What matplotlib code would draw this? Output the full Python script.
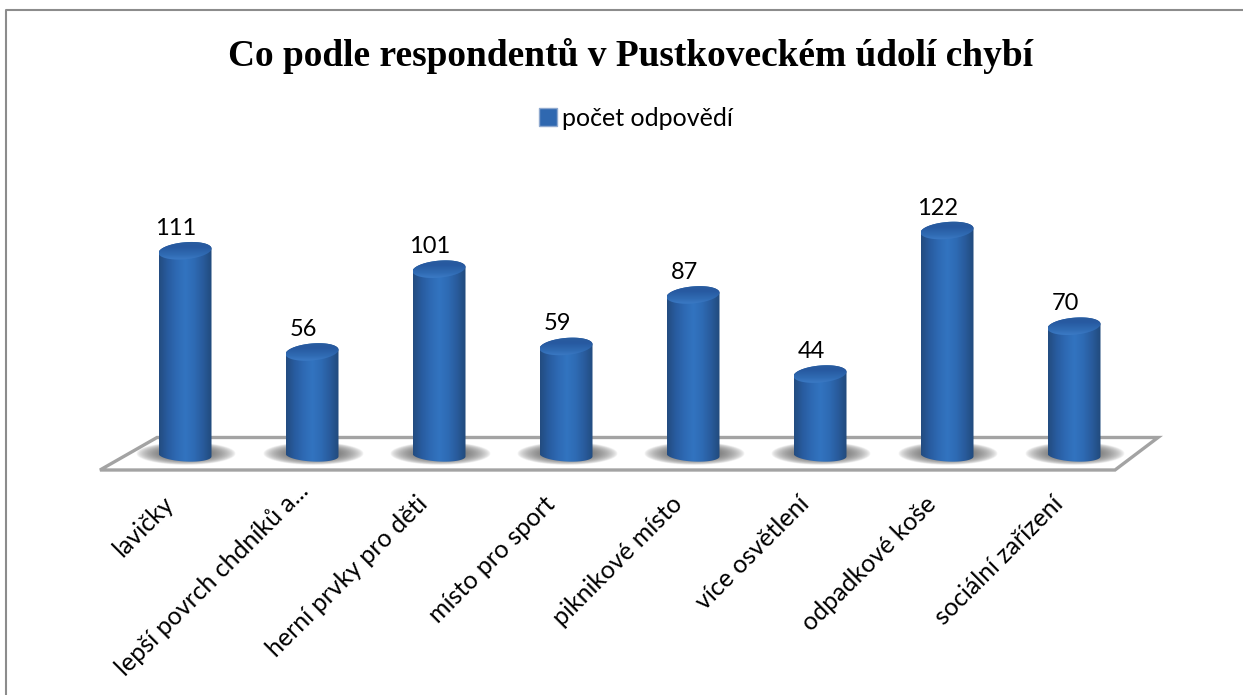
"""Recreate the Pustkovec valley survey chart: 3D-looking cylinders drawn on plain data axes."""

import matplotlib

matplotlib.use("Agg")
import matplotlib.pyplot as plt  # noqa: E402
import numpy as np  # noqa: E402
from matplotlib.colors import LinearSegmentedColormap  # noqa: E402
from matplotlib.lines import Line2D  # noqa: E402
from matplotlib.patches import PathPatch, Patch, Polygon  # noqa: E402
from matplotlib.path import Path  # noqa: E402
from matplotlib.transforms import Affine2D  # noqa: E402

W, H = 1243, 695

CATEGORIES = ["lavičky", "lepší povrch chdníků a...", "herní prvky pro děti", "místo pro sport",
              "piknikové místo", "více osvětlení", "odpadkové koše", "sociální zařízení"]
ANSWERS = [111, 56, 101, 59, 87, 44, 122, 70]
SERIES_NAME = "počet odpovědí"
TITLE = "Co podle respondentů v Pustkoveckém údolí chybí"

# pixel geometry of the plot
X0_PX, STEP_PX = 185, 127
BASE_PX, UNIT_PX = 455, 1.84
BAR_W = 53 / STEP_PX
RX = BAR_W / 2
RY_TOP = 8.5 / UNIT_PX
RY_BOT = 6.5 / UNIT_PX
TILT_TOP = 1.2

CYL = LinearSegmentedColormap.from_list(
    "cyl", ["#234c80", "#285ca0", "#2e6ab4", "#3274c0", "#2e6bb4", "#295b9c", "#214a7c"])
TOP = LinearSegmentedColormap.from_list("top", ["#4080cc", "#2f6ab2", "#2759a0", "#2b5f9e"])

PX = Affine2D().scale(1, -1).translate(0, H)  # picture pixels, y down

plt.rcParams["font.family"] = ["Lato", "DejaVu Sans"]
fig = plt.figure(figsize=(W / 100, H / 100), dpi=100)
ax = fig.add_axes([0, 0, 1, 1])
ax.axis("off")

# outer frame (only top and left show) and floor
ax.add_line(Line2D([6, 6, W], [H, 10, 10], transform=PX, color="#8c8c8c", lw=1.5, clip_on=False))
ax.add_patch(Polygon([(100, 470), (157, 437.5), (1158, 437.5), (1115, 470)], closed=True, transform=PX,
                     fc="white", ec="#a3a3a3", lw=2.4, joinstyle="miter"))


def cylinder_path(x, value):
    t = np.linspace(0, np.pi, 40)
    top_x = x + RX * np.cos(t)
    top_y = value + RY_TOP * np.sin(t) + TILT_TOP * np.cos(t)
    bot_x = x - RX * np.cos(t)
    bot_y = -RY_BOT * np.sin(t) + 0.8 * np.cos(t)
    return np.column_stack([np.r_[top_x, bot_x], np.r_[top_y, bot_y]])


for i, value in enumerate(ANSWERS):
    # soft floor shadow
    yy, xx = np.mgrid[-1:1:60j, -1:1:160j]
    alpha = np.clip(1 - (xx ** 2 + yy ** 2), 0, 1) ** 0.7 * 0.95
    shadow = np.zeros(alpha.shape + (4,))
    shadow[..., :3] = 0.38
    shadow[..., 3] = alpha
    cx = i + 1 / STEP_PX
    ax.imshow(shadow, extent=(cx - 50 / STEP_PX, cx + 50 / STEP_PX, -10 / UNIT_PX, 13 / UNIT_PX),
              aspect="auto", zorder=2, interpolation="bilinear")

    body = PathPatch(Path(cylinder_path(i, value), closed=False), fc="none", ec="none", zorder=3)
    ax.add_patch(body)
    im = ax.imshow(np.linspace(0, 1, 128)[None, :], cmap=CYL, aspect="auto", zorder=3, interpolation="bilinear",
                   extent=(i - RX, i + RX, -RY_BOT - 1, value + RY_TOP + 2))
    im.set_clip_path(body)

    # lid of the cylinder
    t = np.linspace(0, 2 * np.pi, 80)
    lid = PathPatch(Path(np.column_stack([i + RX * np.cos(t), value + RY_TOP * np.sin(t) + TILT_TOP * np.cos(t)])),
                    fc="none", ec="none", zorder=4)
    ax.add_patch(lid)
    im = ax.imshow(np.linspace(0, 1, 64)[:, None], cmap=TOP, aspect="auto", zorder=4, interpolation="bilinear",
                   extent=(i - RX, i + RX, value - RY_TOP - 1.5, value + RY_TOP + 1.5), origin="lower")
    im.set_clip_path(lid)

    ax.annotate(str(value), (i, value), xytext=(-9, 12), textcoords="offset pixels", ha="center",
                va="bottom", fontsize=17, color="black", zorder=5)
    # the truncated label sits higher than the others in the original
    off = (-15, -24) if CATEGORIES[i].endswith("...") else (-23, -37)
    ax.annotate(CATEGORIES[i], (i, 0), xytext=off, textcoords="offset pixels", ha="right", va="top",
                rotation=45, rotation_mode="anchor", fontsize=18, color="black", zorder=5)

ax.set_xlim(-X0_PX / STEP_PX, (W - X0_PX) / STEP_PX)
ax.set_ylim((BASE_PX - H) / UNIT_PX, BASE_PX / UNIT_PX)

fig.text(630 / W, 1 - 56 / H, TITLE, family="Liberation Serif", weight="bold", fontsize=26.9, ha="center",
         va="center", color="black")
ax.legend(handles=[Patch(fc="#2f68b0", ec="#8fa9cf", label=SERIES_NAME)], loc="center", frameon=False,
          bbox_to_anchor=(636 / W, 1 - 118 / H), fontsize=18, handlelength=0.75, handleheight=0.7,
          handletextpad=0.2, borderpad=0)

fig.savefig("out.png", dpi=100)
